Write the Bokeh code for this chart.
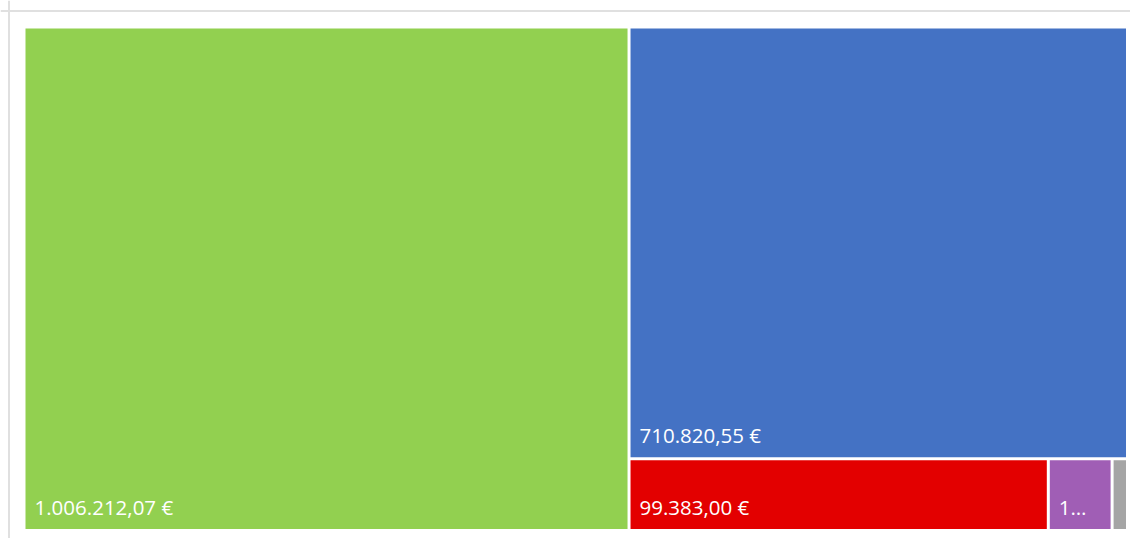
from bokeh.plotting import figure
from bokeh.models import ColumnDataSource, Range1d, Span
from bokeh.core.properties import value
from bokeh.embed import file_html
from bokeh.resources import INLINE

# ---- data ----
categories = ["A", "B", "C", "D", "E"]
amounts = [1006212.07, 710820.55, 99383.00, 15120.00, 3650.00]
colors = ["#92D050", "#4472C4", "#E30000", "#A05EB5", "#A5A5A5"]

W, H = 1130, 538


def fmt_eur(v):
    s = f"{v:,.2f}"
    s = s.replace(",", "X").replace(".", ",").replace("X", ".")
    return s + " €"


def worst(row, side):
    s = sum(row)
    return max(max(side * side * r / (s * s), (s * s) / (side * side * r)) for r in row)


def squarify(vals, x, y, w, h):
    total = sum(vals)
    areas = [v * w * h / total for v in vals]
    rects = []
    i = 0
    while i < len(areas):
        side = min(w, h)
        row = [areas[i]]
        j = i + 1
        while j < len(areas) and worst(row + [areas[j]], side) <= worst(row, side):
            row.append(areas[j])
            j += 1
        s = sum(row)
        if w >= h:
            cw = s / h
            cy = y
            for a in row:
                rh = a / cw
                rects.append((x, x + cw, cy, cy + rh))
                cy += rh
            x += cw
            w -= cw
        else:
            rh = s / w
            cx = x
            for a in row:
                rw = a / rh
                rects.append((cx, cx + rw, y, y + rh))
                cx += rw
            y += rh
            h -= rh
        i = j
    return rects


rects = squarify(amounts, 23.5, 26.5, 1103.5, 503.5)
inset = 1.5
left = [r[0] + inset for r in rects]
right = [r[1] - inset for r in rects]
top = [r[2] + inset for r in rects]
bottom = [r[3] - inset for r in rects]

labels = []
char_w = 10.5
for a, l, r in zip(amounts, left, right):
    t = fmt_eur(a)
    avail = (r - l) - 20
    if len(t) * char_w <= avail:
        labels.append(t)
    elif 3 * char_w <= avail:
        labels.append(t[0] + "…")
    else:
        labels.append("")

src = ColumnDataSource(dict(left=left, right=right, top=top, bottom=bottom,
                            color=colors, label=labels,
                            lx=[l + 9 for l in left], ly=[b - 22 for b in bottom]))

p = figure(width=W, height=H, output_backend="svg", toolbar_location=None,
           x_range=Range1d(0, W), y_range=Range1d(H, 0), min_border=0)
p.axis.visible = False
p.grid.visible = False
p.outline_line_color = None
p.background_fill_color = "white"
p.border_fill_color = "white"

p.add_layout(Span(location=10.5, dimension="width", line_color="#e0e0e0", line_width=2))
p.add_layout(Span(location=8.5, dimension="height", line_color="#e0e0e0", line_width=2))

p.quad(left="left", right="right", top="top", bottom="bottom", fill_color="color",
       line_color=None, source=src)
p.text(x="lx", y="ly", text="label", text_color="white", text_font=value("Open Sans"),
       text_font_size="20.5px", text_baseline="alphabetic", text_align="left", source=src)

open("out.html", "w").write(file_html(p, INLINE))
